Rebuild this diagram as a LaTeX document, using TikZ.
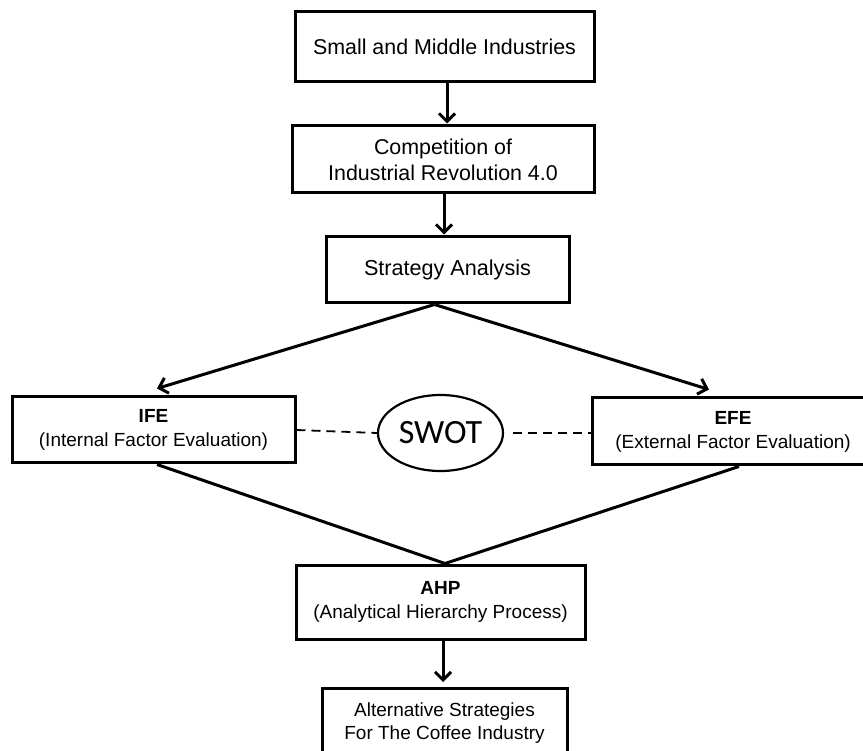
\documentclass[tikz,border=0pt]{standalone}
\usepackage{fontspec}
\setmainfont{Liberation Sans}
\newfontfamily\swotfont{Carlito}
\usetikzlibrary{arrows.meta,shapes.geometric}
\begin{document}
\begin{tikzpicture}[x=1pt,y=-1pt,
  box/.style={draw=black,line width=3pt,rectangle,align=center,inner sep=0pt,fill=white},
  bigtxt/.style={font=\fontsize{21.4}{26}\selectfont},
  midtxt/.style={font=\fontsize{21.6}{26}\selectfont},
  smalltxt/.style={font=\fontsize{19}{24}\selectfont},
  arr/.style={line width=3pt,-{Straight Barb[length=8pt,width=16pt,line width=3pt]}},
  ln/.style={line width=3pt},
  dsh/.style={line width=1.8pt,dash pattern=on 9pt off 6pt}]
\useasboundingbox (0,0) rectangle (863,751);
\clip (0,0) rectangle (863,751);
\node[box,bigtxt,minimum width=299pt,minimum height=70pt] (b1) at (444.5,47) {Small and Middle Industries};
\node[box,bigtxt,minimum width=302pt,minimum height=67pt] (b2) at (443,159.5) {Competition of\\Industrial Revolution 4.0};
\node[box,midtxt,minimum width=243pt,minimum height=66pt] (b3) at (447.5,270) {Strategy Analysis};
\node[box,smalltxt,minimum width=283pt,minimum height=66pt] (ife) at (153.5,430) {\textbf{IFE}\\(Internal Factor Evaluation)};
\node[box,smalltxt,minimum width=282pt,minimum height=67pt] (efe) at (733,431.5) {\textbf{EFE}\\(External Factor Evaluation)};
\node[draw=black,line width=2.2pt,ellipse,minimum width=125pt,minimum height=76pt,inner sep=0pt,font=\swotfont\fontsize{34}{34}\selectfont] (swot) at (440.5,433) {SWOT};
\node[box,smalltxt,minimum width=289pt,minimum height=74pt] (ahp) at (440.5,602) {\textbf{AHP}\\(Analytical Hierarchy Process)};
\node[box,smalltxt,minimum width=245pt,minimum height=80pt,anchor=north,text depth=14pt] (alt) at (444.5,687) {Alternative Strategies\\[-1pt]For The Coffee Industry};
\coordinate (b3s) at ([xshift=-13pt]b3.south);
\coordinate (ifet) at ([xshift=3.5pt,yshift=7pt]ife.north);
\coordinate (efet) at ([xshift=-24pt,yshift=7pt]efe.north);
\coordinate (ifeb) at ([xshift=3.5pt]ife.south);
\coordinate (efeb) at ([xshift=6pt]efe.south);
\coordinate (ahpt) at ([xshift=4.5pt]ahp.north);
\draw[arr] ([xshift=2.5pt]b1.south) -- ([xshift=2.5pt,yshift=1pt]b1.south |- b2.north);
\draw[arr] ([xshift=1pt]b2.south) -- ([xshift=1pt,yshift=1pt]b2.south |- b3.north);
\draw[arr] (b3s) -- (ifet);
\draw[arr] (b3s) -- (efet);
\draw[ln] (ifeb) -- (ahpt) -- (efeb);
\draw[dsh] (ife.east) -- (swot.west);
\draw[dsh] ([xshift=9pt]swot.east) -- (efe.west |- swot.east);
\draw[arr] ([xshift=2.5pt]ahp.south) -- ([xshift=2.5pt,yshift=5pt]ahp.south |- alt.north);
\end{tikzpicture}
\end{document}
